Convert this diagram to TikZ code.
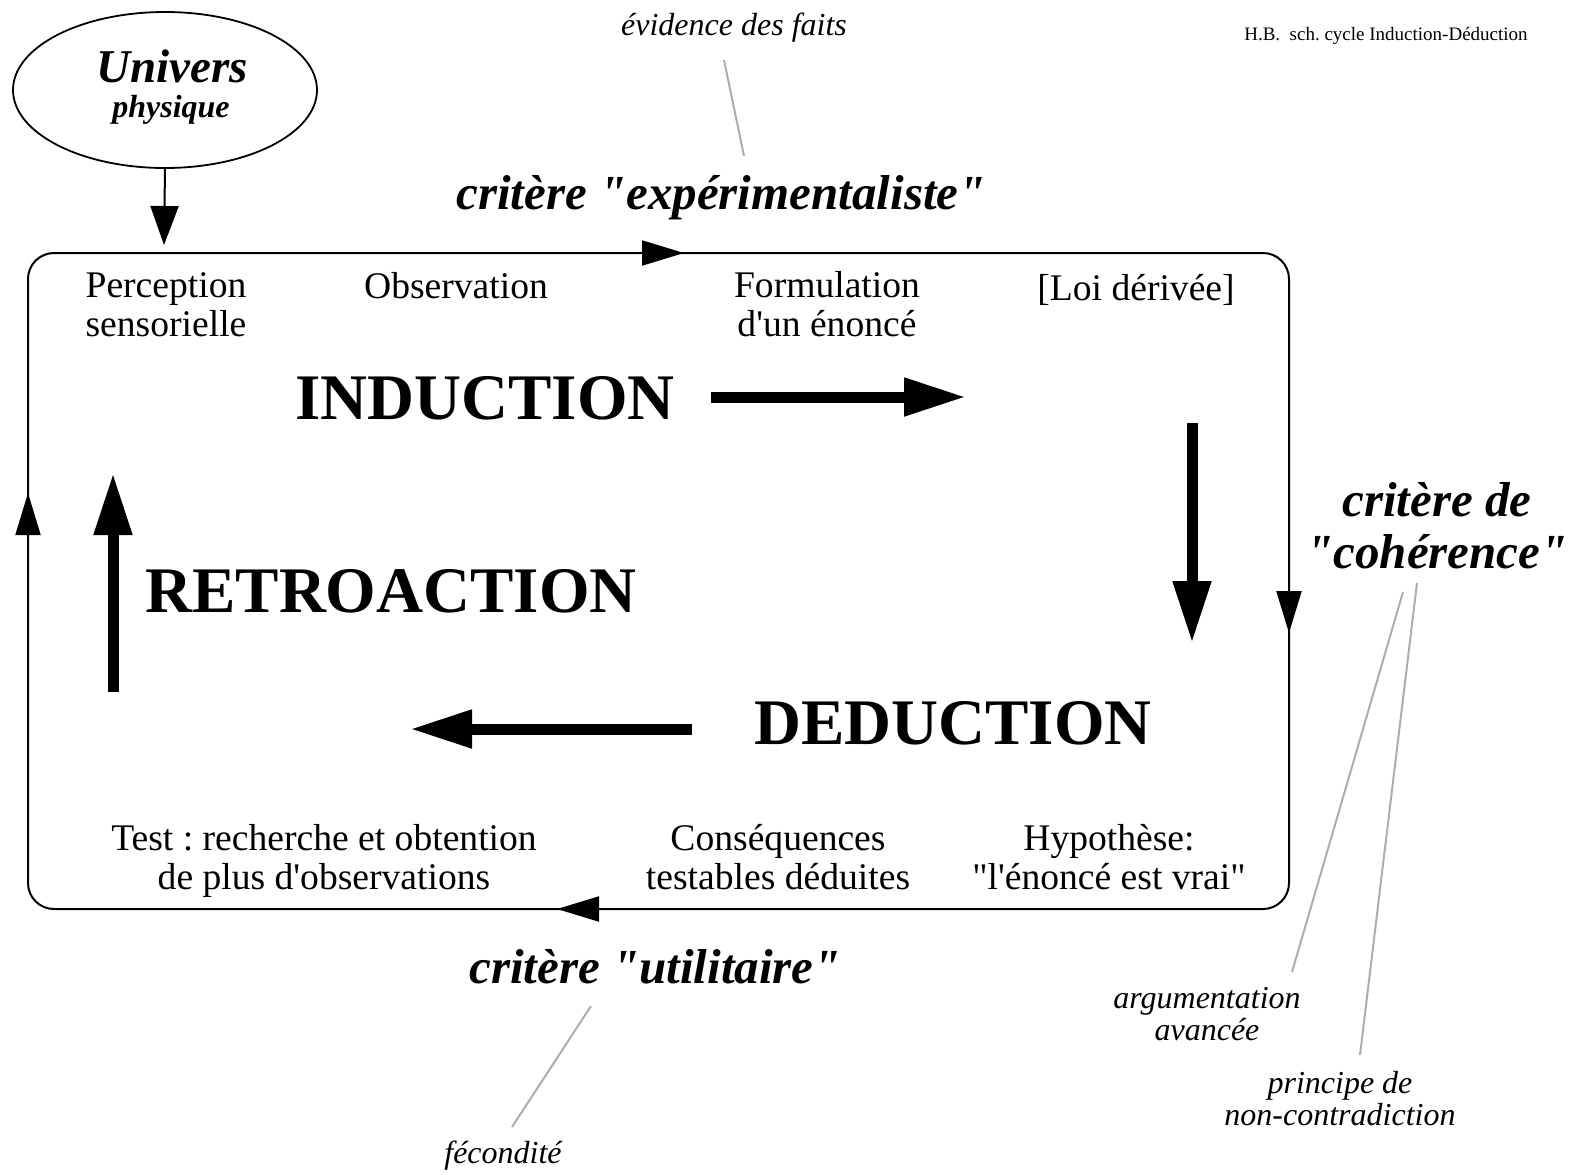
\documentclass[tikz,border=0pt]{standalone}
\usepackage{fontspec}
\setmainfont{Liberation Serif}
\usetikzlibrary{arrows.meta,shapes.geometric}
\newcommand{\dq}{\textquotedbl}
\frenchspacing
\begin{document}
\begin{tikzpicture}[x=0.5pt,y=-0.5pt,
 lbl/.style={font=\fontsize{18.8}{19.5}\selectfont, align=center, anchor=base, inner sep=0pt},
 big/.style={font=\fontsize{32.5}{34}\selectfont\bfseries, anchor=base, inner sep=0pt},
 crit/.style={font=\fontsize{24.5}{25.7}\selectfont\bfseries\itshape, align=center, anchor=base, inner sep=0pt},
 note/.style={font=\fontsize{16}{16}\selectfont\itshape, align=center, anchor=base, inner sep=0pt},
 edgetip/.style={line width=1pt, -{Triangle[length=21pt,width=12.5pt]}},
 bigarrow/.style={line width=5.5pt, -{Triangle[length=31pt,width=18pt]}},
 pointer/.style={draw=black!32, line width=1pt}]
\useasboundingbox (0,0) rectangle (1581,1174);

% Univers physique
\node[draw, ellipse, line width=0.9pt, minimum width=152pt, minimum height=78pt, inner sep=0pt] (univ) at (165,90) {};
\node[font=\fontsize{23.5}{24}\selectfont\bfseries\itshape, anchor=base, inner sep=0pt] (univt) at (172,82) {Univers};
\node[font=\fontsize{16}{16}\selectfont\bfseries\itshape, anchor=base, inner sep=0pt] (phys) at (171,117) {physique};
\coordinate (uend) at (164,245);
\draw[line width=1pt, -{Triangle[length=19.5pt,width=14pt]}] (univ.south) -- (uend);

% cycle frame
\node[draw, line width=1pt, rounded corners=13pt, minimum width=630.5pt, minimum height=328pt, inner sep=0pt] (frame) at (658.5,581) {};
\coordinate (tA) at (600,253); \coordinate (tB) at (684,253);
\coordinate (lA) at (28,560);  \coordinate (lB) at (28,493);
\coordinate (rA) at (1289,560); \coordinate (rB) at (1289,633);
\coordinate (bA) at (640,909); \coordinate (bB) at (557,909);
\draw[edgetip] (tA) -- (tB);
\draw[edgetip] (lA) -- (lB);
\draw[edgetip] (rA) -- (rB);
\draw[edgetip] (bA) -- (bB);

% inner labels (base = last line)
\node[lbl] (perc) at (166,336) {Perception\\sensorielle};
\node[lbl] (obs) at (456,298) {Observation};
\node[lbl] (form) at (827,336) {Formulation\\d\textquotesingle un énoncé};
\node[lbl] (loi) at (1136,300) {[Loi dérivée]};
\node[lbl] (test) at (324,889) {Test : recherche et obtention\\de plus d\textquotesingle observations};
\node[lbl] (cons) at (778,889) {Conséquences\\testables déduites};
\node[lbl] (hyp) at (1109,889) {Hypothèse:\\\dq l\textquotesingle énoncé est vrai\dq};

% big words
\node[big] (ind) at (485,419) {INDUCTION};
\node[big] (retro) at (391,612) {RETROACTION};
\node[big] (ded) at (953,744) {DEDUCTION};

% thick arrows
\coordinate (i1) at (711,397); \coordinate (i2) at (966,397);
\coordinate (d1) at (1192,423); \coordinate (d2) at (1192,643);
\coordinate (e1) at (692,729); \coordinate (e2) at (410,729);
\coordinate (r1) at (113,692); \coordinate (r2) at (113,473);
\draw[bigarrow] (i1) -- (i2);
\draw[bigarrow] (d1) -- (d2);
\draw[bigarrow] (e1) -- (e2);
\draw[bigarrow] (r1) -- (r2);

% criteria
\node[crit] (cexp) at (721,209) {critère \dq expérimentaliste\dq};
\node[crit] (ccoh) at (1437,568) {critère de\\\dq cohérence\dq};
\node[crit] (cuti) at (655,983) {critère \dq utilitaire\dq};

% notes
\node[note] (evid) at (734,35) {évidence des faits};
\node[note] (arg) at (1207,1040) {argumentation\\avancée};
\node[note] (princ) at (1340,1125) {principe de\\non-contradiction};
\node[note] (fec) at (503,1163) {fécondité};
\node[font=\fontsize{9.5}{10}\selectfont, anchor=base, inner sep=0pt] (hb) at (1386,40) {H.B.\ \ sch. cycle Induction-Déduction};

% pointer lines
\coordinate (p1a) at (724,60);  \coordinate (p1b) at (744,156);
\coordinate (p2a) at (1403,592); \coordinate (p2b) at (1292,972);
\coordinate (p3a) at (1417,583); \coordinate (p3b) at (1360,1055);
\coordinate (p4a) at (591,1006); \coordinate (p4b) at (512,1127);
\draw[pointer] (p1a) -- (p1b);
\draw[pointer] (p2a) -- (p2b);
\draw[pointer] (p3a) -- (p3b);
\draw[pointer] (p4a) -- (p4b);
\end{tikzpicture}
\end{document}
